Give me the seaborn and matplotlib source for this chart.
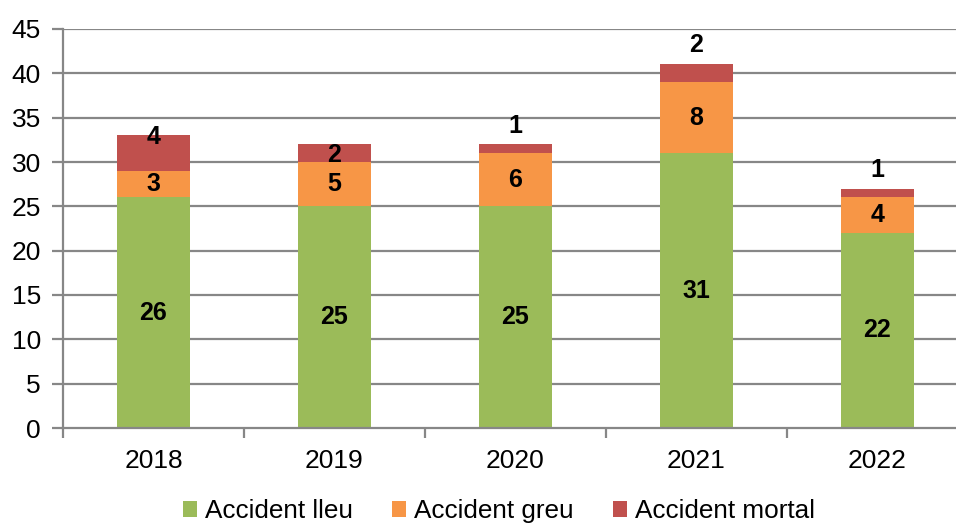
import numpy as np
import pandas as pd
import matplotlib
matplotlib.use("Agg")
import matplotlib.pyplot as plt
from matplotlib.patches import Patch
import seaborn as sns

years = ["2018", "2019", "2020", "2021", "2022"]
lleu = [26, 25, 25, 31, 22]
greu = [3, 5, 6, 8, 4]
mortal = [4, 2, 1, 2, 1]
# where the "mortal" labels sit, relative to the bar top (data units)
mortal_lbl_shift = [-0.2, -1.2, 2.1, 2.2, 2.1]

series_names = ["Accident lleu", "Accident greu", "Accident mortal"]
colors = ["#9BBB59", "#F79646", "#C0504D"]

sns.set_style("white")
plt.rcParams["font.family"] = ["Liberation Sans", "DejaVu Sans"]
plt.rcParams["text.color"] = "black"
plt.rcParams["xtick.labelcolor"] = "black"
plt.rcParams["ytick.labelcolor"] = "black"

lleu = np.array(lleu)
greu = np.array(greu)
mortal = np.array(mortal)
tops = [lleu, lleu + greu, lleu + greu + mortal]

df = pd.DataFrame({"year": years, "s0": tops[0], "s1": tops[1], "s2": tops[2]})

fig = plt.figure(figsize=(9.56, 5.25), dpi=100)
ax = fig.add_axes([63 / 956, 97 / 525, 1 - 63 / 956, 399 / 525])

grid_c = "#878787"
for y in range(5, 50, 5):
    ax.axhline(y, color=grid_c, lw=1.6, zorder=0)

# stacked bars: draw the cumulative totals from the top down
for k in [2, 1, 0]:
    sns.barplot(data=df, x="year", y="s%d" % k, color=colors[k], width=0.4,
                saturation=1, ax=ax, zorder=2, linewidth=0)

# labels
lbl = dict(ha="center", va="center", fontsize=18, fontweight="bold",
           color="black", zorder=5)
for i in range(len(years)):
    ax.text(i, lleu[i] / 2, str(lleu[i]), **lbl)
    ax.text(i, lleu[i] + greu[i] / 2, str(greu[i]), **lbl)
    ax.text(i, tops[2][i] + mortal_lbl_shift[i], str(mortal[i]), **lbl)

ax.set_ylim(0, 45)
ax.set_xlim(-0.5, 4.434)
ax.set_yticks(range(0, 50, 5))
ax.set_xlabel("")
ax.set_ylabel("")

for s in ["top", "right"]:
    ax.spines[s].set_visible(False)
for s in ["left", "bottom"]:
    ax.spines[s].set_color(grid_c)
    ax.spines[s].set_linewidth(1.6)

ax.set_xticks(np.arange(-0.5, 4.5, 1.0), minor=True)
ax.tick_params(axis="x", which="major", length=0, pad=15, labelsize=19)
ax.tick_params(axis="x", which="minor", length=7, width=1.6, color=grid_c,
               direction="out", bottom=True)
ax.tick_params(axis="y", which="major", length=8, width=1.6, color=grid_c,
               direction="out", left=True, pad=8, labelsize=19)

handles = [Patch(facecolor=c, edgecolor="none") for c in colors]
fig.legend(handles, series_names, loc="center", bbox_to_anchor=(0.522, 0.026),
           ncol=3, frameon=False, fontsize=18.8, handlelength=0.55,
           handleheight=0.55, handletextpad=0.3, columnspacing=1.5)

fig.savefig("out.png", dpi=100)
